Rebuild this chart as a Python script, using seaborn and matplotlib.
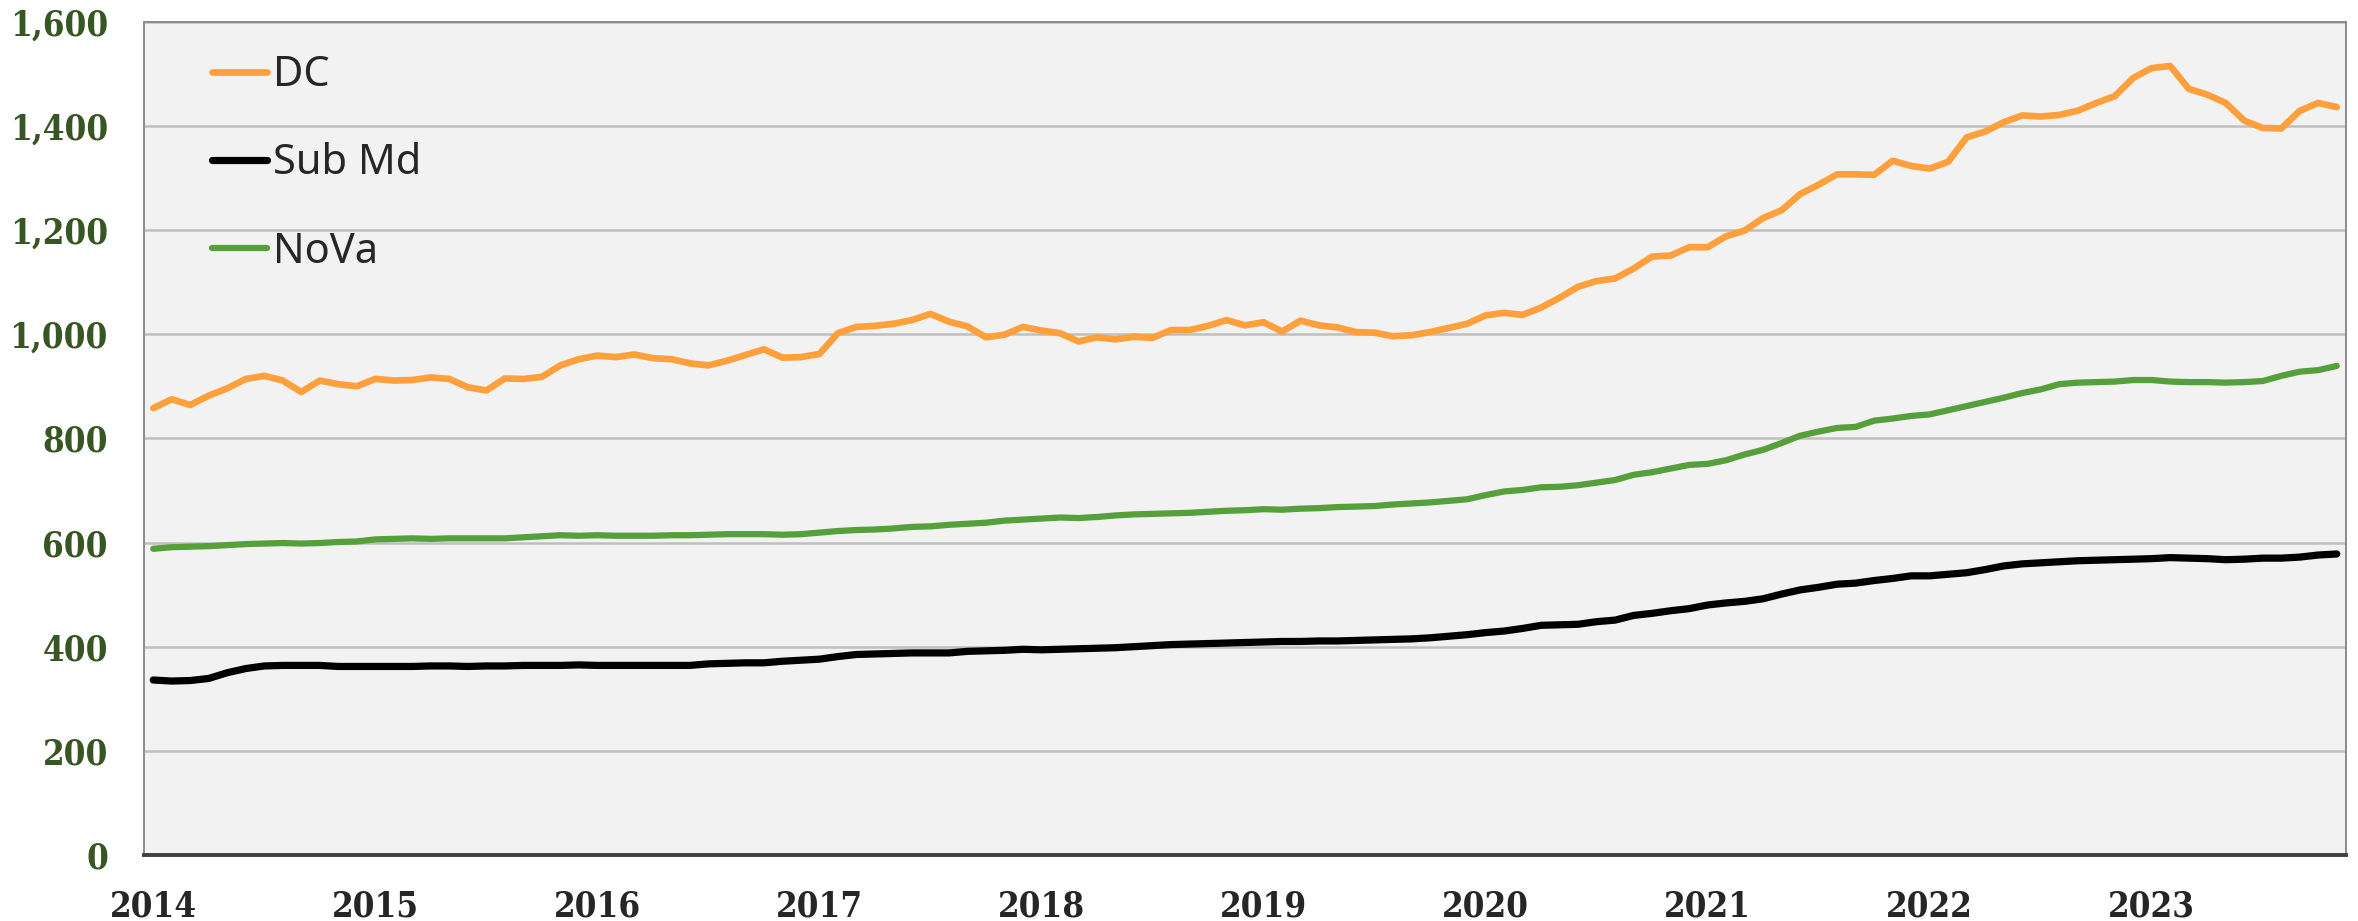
import numpy as np
import pandas as pd
import matplotlib
matplotlib.use("Agg")
import matplotlib.pyplot as plt
from matplotlib.lines import Line2D
import seaborn as sns

# Monthly series, Jan 2014 through Nov 2023
dc = [
    858, 875, 864, 882, 896, 914, 920, 911, 889, 911, 904, 900,
    914, 911, 912, 917, 914, 898, 892, 915, 914, 918, 940, 952,
    959, 956, 961, 954, 952, 944, 940, 949, 960, 971, 955, 956,
    962, 1002, 1014, 1016, 1020, 1027, 1039, 1024, 1015, 994, 999, 1014,
    1007, 1002, 986, 994, 990, 995, 993, 1008, 1008, 1016, 1027, 1017,
    1023, 1005, 1026, 1017, 1013, 1004, 1003, 996, 998, 1004, 1012, 1020,
    1036, 1041, 1037, 1051, 1070, 1091, 1102, 1107, 1126, 1149, 1151, 1167,
    1167, 1188, 1199, 1223, 1238, 1269, 1287, 1307, 1307, 1306, 1333, 1323,
    1318, 1331, 1378, 1389, 1407, 1420, 1418, 1421, 1429, 1444, 1457, 1492,
    1511, 1515, 1471, 1460, 1444, 1410, 1396, 1395, 1429, 1444, 1436,
]
sub_md = [
    336, 334, 335, 339, 350, 358, 363, 364, 364, 364, 362, 362,
    362, 362, 362, 363, 363, 362, 363, 363, 364, 364, 364, 365,
    364, 364, 364, 364, 364, 364, 367, 368, 369, 369, 372, 374,
    376, 381, 385, 386, 387, 388, 388, 388, 391, 392, 393, 395,
    394, 395, 396, 397, 398, 400, 402, 404, 405, 406, 407, 408,
    409, 410, 410, 411, 411, 412, 413, 414, 415, 417, 420, 423,
    427, 430, 435, 441, 442, 443, 448, 451, 460, 464, 469, 473,
    480, 484, 487, 492, 501, 509, 514, 520, 522, 527, 531, 536,
    536, 539, 542, 548, 555, 559, 561, 563, 565, 566, 567, 568,
    569, 571, 570, 569, 567, 568, 570, 570, 572, 576, 578,
]
nova = [
    588, 591, 592, 593, 595, 597, 598, 599, 598, 599, 601, 602,
    606, 607, 608, 607, 608, 608, 608, 608, 610, 612, 614, 613,
    614, 613, 613, 613, 614, 614, 615, 616, 616, 616, 615, 616,
    619, 622, 624, 625, 627, 630, 631, 634, 636, 638, 642, 644,
    646, 648, 647, 649, 652, 654, 655, 656, 657, 659, 661, 662,
    664, 663, 665, 666, 668, 669, 670, 673, 675, 677, 680, 683,
    691, 698, 701, 706, 707, 710, 715, 720, 730, 735, 742, 749,
    751, 758, 769, 778, 791, 805, 813, 820, 822, 834, 838, 843,
    846, 854, 862, 870, 878, 887, 894, 904, 907, 908, 909, 912,
    912, 909, 908, 908, 907, 908, 910, 920, 928, 931, 939,
]
series_names = ["DC", "Sub Md", "NoVa"]
year_labels = ["2014", "2015", "2016", "2017", "2018",
               "2019", "2020", "2021", "2022", "2023"]
y_ticks = [0, 200, 400, 600, 800, 1000, 1200, 1400, 1600]

colors = {"DC": "#FFA03C", "Sub Md": "#000000", "NoVa": "#55A03A"}
widths = {"DC": 4.8, "Sub Md": 5.2, "NoVa": 4.5}

month_idx = np.arange(len(dc))
frames = []
for name, vals in zip(series_names, [dc, sub_md, nova]):
    frames.append(pd.DataFrame({"month": month_idx, "value": vals, "series": name}))
df = pd.concat(frames, ignore_index=True)

sns.set_style("white")

W, H = 2358, 921
fig = plt.figure(figsize=(W / 100, H / 100), dpi=100)
ax = fig.add_axes([144 / W, (H - 855) / H, 2202 / W, 833.3 / H])
ax.set_facecolor("#F2F2F2")

for name in series_names:
    sub = df[df["series"] == name]
    sns.lineplot(data=sub, x="month", y="value", ax=ax, color=colors[name],
                 linewidth=widths[name], legend=False,
                 solid_joinstyle="round", solid_capstyle="round", zorder=3)

tick_font = {"family": "DejaVu Serif", "weight": "bold", "stretch": "condensed"}

# y axis
ax.set_ylim(0, 1600)
ax.set_yticks(y_ticks)
ax.set_yticklabels([f"{v:,}" for v in y_ticks])
ax.yaxis.grid(True, color="#BFBFBF", linewidth=1.8, zorder=0)
ax.set_axisbelow(True)
ax.tick_params(axis="y", length=0, pad=26, labelsize=25, labelcolor="#375623")
for lab in ax.get_yticklabels():
    lab.set_fontfamily(tick_font["family"])
    lab.set_fontweight(tick_font["weight"])
    lab.set_fontstretch(tick_font["stretch"])

# x axis: category boundaries carry the tick marks, labels sit on January
n = len(dc)
ax.set_xlim(-0.5, n - 0.5)
ax.set_xticks([12 * k - 0.5 for k in range(len(year_labels))])
ax.set_xticklabels([])
ax.set_xticks([12 * k for k in range(len(year_labels))], minor=True)
ax.set_xticklabels(year_labels, minor=True)
ax.tick_params(axis="x", which="major", direction="inout", length=16.5,
               width=2.4, color="#404040")
ax.tick_params(axis="x", which="minor", length=0, pad=25, labelsize=25,
               labelcolor="#262626")
for lab in ax.get_xticklabels(minor=True):
    lab.set_fontfamily(tick_font["family"])
    lab.set_fontweight(tick_font["weight"])
    lab.set_fontstretch(tick_font["stretch"])
ax.set_xlabel("")
ax.set_ylabel("")

for side in ["left", "top", "right"]:
    ax.spines[side].set_color("#8C8C8C")
    ax.spines[side].set_linewidth(1.4)
    ax.spines[side].set_visible(True)
ax.spines["bottom"].set_color("#404040")
ax.spines["bottom"].set_linewidth(2.8)
ax.spines["bottom"].set_visible(True)

handles = [Line2D([0], [0], color=colors[s], linewidth=widths[s],
                  solid_capstyle="round") for s in series_names]
leg = ax.legend(handles, series_names, loc="upper left",
                bbox_to_anchor=(0.0309, 0.961), frameon=False,
                prop={"family": "Noto Sans", "size": 30},
                handlelength=1.32, handletextpad=0.15, labelspacing=1.11,
                borderpad=0, borderaxespad=0)

fig.savefig("out.png", dpi=100, facecolor="white")
